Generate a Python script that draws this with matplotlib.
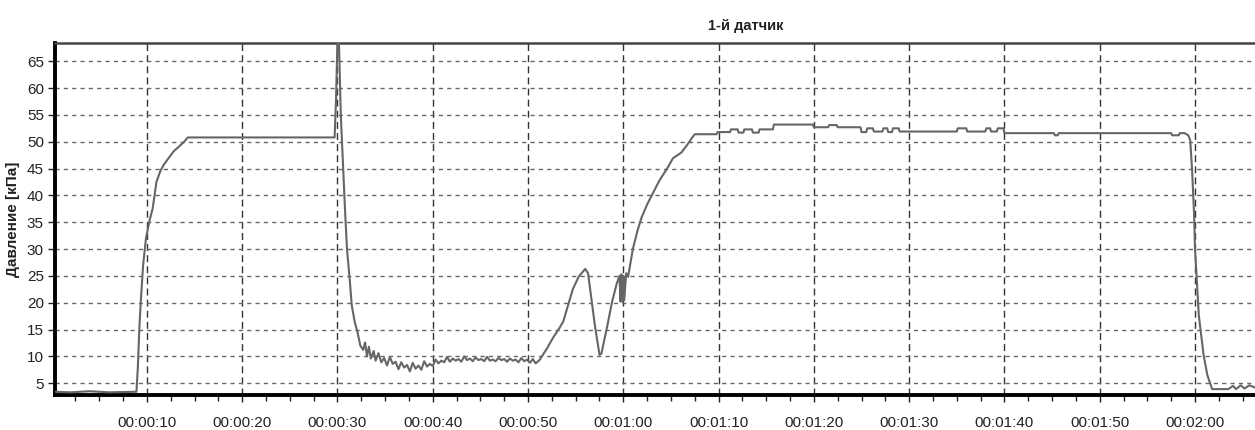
import matplotlib.pyplot as plt
from matplotlib.ticker import MultipleLocator, FuncFormatter

plt.rcParams['font.family'] = ['Liberation Sans', 'DejaVu Sans']

# sensor 1 pressure trace (seconds, kPa)
t_sec = [0.3, 2.0, 4.0, 6.0, 8.9, 9.05, 9.2, 9.35, 9.6, 9.9, 10.3, 10.6, 11.0, 11.4,
         11.8, 12.3, 12.8, 13.3, 13.8, 14.3, 29.7, 29.85, 30.0, 30.15, 30.35, 30.55,
         30.8, 31.0, 31.3, 31.5, 31.8, 32.1, 32.4,
         32.7, 32.9, 33.1, 33.3, 33.5, 33.8, 34.0, 34.3, 34.6, 34.9, 35.2, 35.5, 35.8,
         36.1, 36.4, 36.7, 37.0, 37.3, 37.6, 37.9, 38.2, 38.5, 38.8, 39.1, 39.4, 39.7,
         40.0, 40.3, 40.6, 40.9, 41.2, 41.5, 41.8, 42.1, 42.4, 42.7, 43.0, 43.3, 43.6,
         43.9, 44.2, 44.5, 44.8, 45.1, 45.4, 45.7, 46.0, 46.3, 46.6, 46.9, 47.2, 47.5,
         47.8, 48.1, 48.4, 48.7, 49.0, 49.3, 49.6, 49.9, 50.2, 50.5, 50.8, 51.2,
         52.0, 52.6, 53.2, 53.7, 54.2, 54.7, 55.3, 56.0, 56.3, 57.0, 57.5, 57.7, 58.3,
         58.8, 59.3, 59.6, 59.7, 59.8, 59.9, 60.0, 60.1, 60.3, 60.5, 61.0, 61.5, 61.9,
         62.5, 63.1, 63.8, 64.7, 65.2, 66.1, 66.7, 67.2, 67.5, 69.8, 69.9, 71.2, 71.3,
         72.0, 72.1, 72.6, 72.7, 73.5, 73.6, 74.2, 74.3, 75.7, 75.8, 79.9, 80.0, 81.5,
         81.6, 82.4, 82.5, 84.9, 85.0, 85.5, 85.6, 86.2, 86.3, 87.2, 87.3, 87.7, 87.8,
         88.2, 88.3, 88.9, 89.0, 95.0, 95.1, 96.0, 96.1, 98.0, 98.1, 98.5, 98.6, 99.2,
         99.3, 99.9, 100.0, 105.2, 105.3, 105.6, 105.7, 117.5, 117.6, 118.3, 118.4,
         118.9, 119.3, 119.5, 119.7, 119.9, 120.0, 120.4, 120.9, 121.3, 121.8, 123.5,
         124.0, 124.3, 124.8, 125.2, 125.7, 126.3]
p_kpa = [3.4, 3.3, 3.5, 3.3, 3.4, 8.0, 15.0, 20.0, 27.0, 32.0, 35.5, 37.5, 42.5, 44.5,
         45.8, 47.0, 48.2, 49.0, 49.8, 50.8, 50.8, 58.0, 69.0, 69.0, 55.0, 47.0,
         37.0, 30.0, 24.0, 19.5, 16.5, 14.5, 12.0,
         11.2, 12.6, 10.0, 11.8, 9.6, 11.0, 9.2, 10.6, 8.9, 9.7, 8.3, 9.9, 8.6,
         9.0, 7.6, 8.9, 7.9, 8.4, 7.2, 8.8, 7.7, 8.3, 7.5, 9.1, 8.1, 8.6,
         8.2, 9.4, 8.7, 9.2, 8.9, 9.9, 9.0, 9.6, 9.2, 9.5, 9.0, 10.0, 9.3,
         9.6, 9.1, 9.8, 9.3, 9.5, 9.1, 9.9, 9.2, 9.4, 9.1, 9.7, 9.3, 9.5,
         9.0, 9.6, 9.2, 9.4, 8.9, 9.7, 9.1, 9.4, 8.8, 9.5, 8.7, 9.3,
         11.5, 13.4, 15.0, 16.5, 19.5, 22.5, 24.8, 26.3, 25.5, 16.0, 10.3, 10.5, 15.5,
         20.0, 23.5, 25.0, 20.2, 25.3, 20.2, 25.0, 20.5, 25.5, 24.8, 30.0, 33.5, 35.8,
         38.3, 40.4, 42.8, 45.3, 46.9, 48.0, 49.4, 50.7, 51.4, 51.4, 51.8, 51.8, 52.3,
         52.3, 51.7, 51.7, 52.3, 52.3, 51.7, 51.7, 52.3, 52.3, 53.2, 53.2, 52.7, 52.7,
         53.1, 53.1, 52.7, 52.7, 51.8, 51.8, 52.5, 52.5, 51.9, 51.9, 52.5, 52.5, 51.8,
         51.8, 52.5, 52.5, 51.9, 51.9, 52.5, 52.5, 51.9, 51.9, 52.5, 52.5, 51.9,
         51.9, 52.5, 52.5, 51.6, 51.6, 51.2, 51.2, 51.6, 51.6, 51.2, 51.2, 51.6,
         51.6, 51.2, 50.3, 44.7, 36.7, 30.2, 17.7, 10.3, 6.5, 3.9, 3.9,
         4.5, 3.9, 4.6, 4.0, 4.6, 4.2]

title = '1-й датчик'
y_label = 'Давление [кПа]'


def hms(x, pos):
    s = int(round(x))
    return '%02d:%02d:%02d' % (s // 3600, (s // 60) % 60, s % 60)


fig = plt.figure(figsize=(12.55, 4.3), dpi=100)
ax = fig.add_axes([0.0438, 0.0814, 0.9562, 0.8186])

ax.plot(t_sec, p_kpa, color='#666666', lw=1.5, zorder=3)

ax.set_xlim(0.35, 126.3)
ax.set_ylim(2.8, 68.4)
ax.xaxis.set_major_locator(MultipleLocator(10))
ax.xaxis.set_minor_locator(MultipleLocator(2.5))
ax.xaxis.set_major_formatter(FuncFormatter(hms))
ax.yaxis.set_major_locator(MultipleLocator(5))

ax.grid(True, axis='x', which='major', color='#333333', lw=1.0, ls=(0, (5, 3)))
ax.grid(True, axis='y', which='major', color='#666666', lw=1.0, ls=(0, (3, 3)))

for side in ['left', 'bottom']:
    ax.spines[side].set_linewidth(2.8)
    ax.spines[side].set_color('black')
ax.spines['top'].set_linewidth(1.8)
ax.spines['top'].set_color('#444444')
ax.spines['right'].set_visible(False)

ax.tick_params(axis='both', which='major', direction='out', length=5, width=1,
               colors='#222222', labelsize=11, pad=3)
ax.tick_params(axis='x', which='minor', direction='out', length=4, width=1, colors='#222222')
ax.tick_params(axis='x', which='major', pad=10)

ax.set_ylabel(y_label, fontsize=11, fontweight='bold', color='#222222', labelpad=5)
fig.text(0.594, 0.93, title, fontsize=10.5, fontweight='bold', color='#222222', ha='center')

fig.savefig('out.png', dpi=100)
